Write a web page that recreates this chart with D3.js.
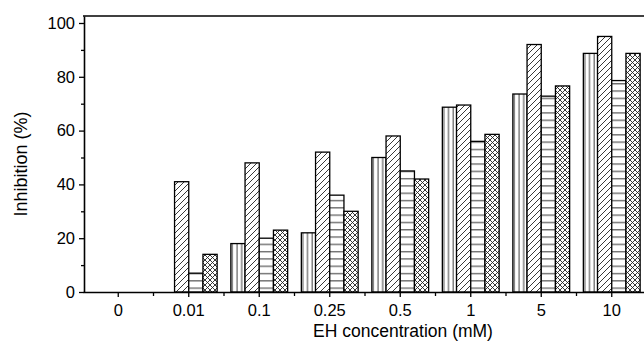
<!DOCTYPE html>
<html>
<head>
<meta charset="utf-8">
<script src="https://cdn.jsdelivr.net/npm/d3@7"></script>
<style>
  body { margin: 0; background: #fff; }
  text { font-family: Arial, "Liberation Sans", sans-serif; fill: #000; }
</style>
</head>
<body>
<div id="chart"></div>
<script>
const categories = ["0", "0.01", "0.1", "0.25", "0.5", "1", "5", "10"];
const seriesKeys = ["vertical", "diagonal", "horizontal", "crosshatch"];
const verticalVals   = [0, 0, 18, 22, 50, 68.7, 73.6, 88.7];
const diagonalVals   = [0, 41, 48, 52, 58, 69.5, 92, 95];
const horizontalVals = [0, 7, 20, 36, 45, 56, 72.8, 78.6];
const crossVals      = [0, 14, 23, 30, 42, 58.6, 76.6, 88.7];
const yTicks = [0, 20, 40, 60, 80, 100];
const yMinor = [10, 30, 50, 70, 90];

const WIDTH = 644, HEIGHT = 348;
const PLOT = { LEFT: 83, RIGHT: 647, TOP: 16, BOTTOM: 292 };

const svg = d3.select("#chart").append("svg")
  .attr("width", WIDTH).attr("height", HEIGHT)
  .attr("viewBox", [0, 0, WIDTH, HEIGHT]);

// hatch patterns
const defs = svg.append("defs");
function pattern(id, size, draw) {
  const p = defs.append("pattern")
    .attr("id", id)
    .attr("patternUnits", "userSpaceOnUse")
    .attr("width", size[0]).attr("height", size[1]);
  p.append("rect").attr("width", size[0]).attr("height", size[1]).attr("fill", "#fff");
  draw(p);
}
pattern("p-vertical", [4.7, 10], p => p.append("line")
  .attr("x1", 2).attr("x2", 2).attr("y1", 0).attr("y2", 10)
  .attr("stroke", "#222").attr("stroke-width", 0.9));
pattern("p-diagonal", [6, 6], p => p.append("path")
  .attr("d", "M0,6 L6,0 M-1,1 L1,-1 M5,7 L7,5")
  .attr("stroke", "#222").attr("stroke-width", 0.9));
pattern("p-horizontal", [10, 7.3], p => p.append("line")
  .attr("x1", 0).attr("x2", 10).attr("y1", 3.5).attr("y2", 3.5)
  .attr("stroke", "#333").attr("stroke-width", 1));
pattern("p-crosshatch", [5, 5], p => p.append("path")
  .attr("d", "M0,5 L5,0 M-1,1 L1,-1 M4,6 L6,4 M0,0 L5,5 M-1,4 L1,6 M4,-1 L6,1")
  .attr("stroke", "#222").attr("stroke-width", 0.9));

const x0 = d3.scaleBand().domain(categories).range([PLOT.LEFT, PLOT.RIGHT]);
const x1 = d3.scaleBand().domain(seriesKeys).range([-28.4, 28.4]);
const y = d3.scaleLinear().domain([0, 102.6]).range([PLOT.BOTTOM, PLOT.TOP]);

const valuesBy = {
  vertical: verticalVals,
  diagonal: diagonalVals,
  horizontal: horizontalVals,
  crosshatch: crossVals,
};

const rows = [];
categories.forEach((c, i) => {
  seriesKeys.forEach(k => {
    if (valuesBy[k][i] > 0) rows.push({ cat: c, key: k, value: valuesBy[k][i] });
  });
});

svg.append("g").selectAll("rect")
  .data(rows)
  .join("rect")
  .attr("x", d => x0(d.cat) + x0.bandwidth() / 2 + x1(d.key))
  .attr("y", d => y(d.value))
  .attr("width", x1.bandwidth())
  .attr("height", d => y(0) - y(d.value))
  .attr("fill", d => `url(#p-${d.key})`)
  .attr("stroke", "#000")
  .attr("stroke-width", 1.3);

// frame top line
svg.append("line")
  .attr("x1", PLOT.LEFT).attr("x2", WIDTH)
  .attr("y1", PLOT.TOP).attr("y2", PLOT.TOP)
  .attr("stroke", "#000").attr("stroke-width", 1.5);

// y axis
const yAxis = svg.append("g")
  .attr("transform", `translate(${PLOT.LEFT + 1},0)`)
  .call(d3.axisLeft(y).tickValues(yTicks).tickSize(5).tickPadding(4).tickSizeOuter(0));
svg.append("g")
  .attr("transform", `translate(${PLOT.LEFT + 1},0)`)
  .call(d3.axisLeft(y).tickValues(yMinor).tickSize(3).tickFormat("").tickSizeOuter(0))
  .select(".domain").remove();

// x axis
const xAxis = svg.append("g")
  .attr("transform", `translate(0,${PLOT.BOTTOM})`)
  .call(d3.axisBottom(x0).tickSize(5).tickPadding(7).tickSizeOuter(0));
svg.append("g")
  .attr("transform", `translate(0,${PLOT.BOTTOM})`)
  .selectAll("line")
  .data(categories.slice(1))
  .join("line")
  .attr("x1", d => x0(d)).attr("x2", d => x0(d))
  .attr("y1", 0).attr("y2", 4)
  .attr("stroke", "#000").attr("stroke-width", 1.3);

[yAxis, xAxis].forEach(g => {
  g.select(".domain").attr("stroke", "#000").attr("stroke-width", 1.6);
  g.selectAll(".tick line").attr("stroke", "#000").attr("stroke-width", 1.3);
  g.selectAll(".tick text")
    .style("font-size", "16.5px")
    .style("font-family", "Arial, 'Liberation Sans', sans-serif")
    .attr("fill", "#000");
});
svg.selectAll("g .tick line").attr("stroke", "#000").attr("stroke-width", 1.3);
svg.selectAll("g .domain").attr("stroke-width", 1.6);

svg.append("text")
  .attr("x", 403)
  .attr("y", 337)
  .attr("text-anchor", "middle")
  .style("font-size", "17.5px")
  .text("EH concentration (mM)");

svg.append("text")
  .attr("transform", `translate(27,${(PLOT.TOP + PLOT.BOTTOM) / 2 + 10}) rotate(-90)`)
  .attr("text-anchor", "middle")
  .style("font-size", "18px")
  .text("Inhibition (%)");
</script>
</body>
</html>
